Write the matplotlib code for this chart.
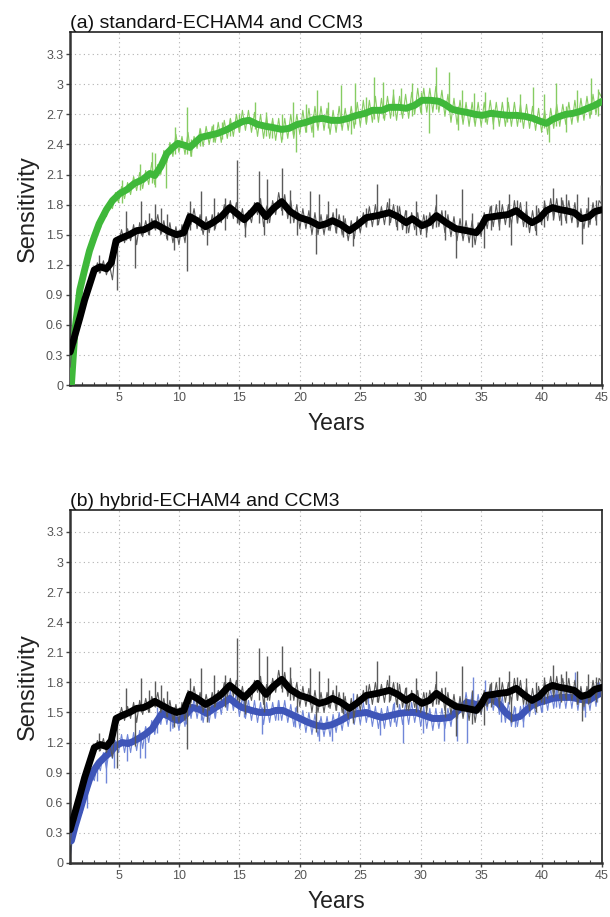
import numpy as np
import matplotlib
matplotlib.use("Agg")
import matplotlib.pyplot as plt
from matplotlib.ticker import MultipleLocator

plt.rcParams['font.family'] = ['Liberation Sans', 'DejaVu Sans']

# ---------------- data ----------------
# thick (smoothed) curves: year, value
ccm3_smooth_x = [1.0, 1.4, 1.8, 2.2, 2.6, 3.0, 3.5, 4.0, 4.4, 4.8, 5.3, 5.9, 6.5, 7.1, 7.6, 8.0, 8.6, 9.2,
                 9.8, 10.4, 10.9, 11.5, 12.2, 12.8, 13.5, 14.2, 14.8, 15.4, 16.0, 16.5, 17.2, 17.8, 18.5,
                 19.2, 20.0, 20.8, 21.6, 22.2, 22.7, 23.4, 24.1, 24.8, 25.5, 26.4, 27.4, 28.1, 28.8, 29.3,
                 30.1, 30.7, 31.3, 32.1, 32.9, 33.8, 34.6, 35.0, 35.4, 36.0, 36.5, 37.2, 37.9, 38.5, 39.2,
                 39.8, 40.4, 40.9, 41.5, 42.0, 42.7, 43.3, 43.9, 44.4, 45.0]
ccm3_smooth_y = [0.33, 0.50, 0.67, 0.85, 1.00, 1.15, 1.18, 1.16, 1.22, 1.44, 1.47, 1.50, 1.54, 1.55, 1.58, 1.61,
                 1.57, 1.53, 1.50, 1.52, 1.68, 1.64, 1.58, 1.62, 1.68, 1.77, 1.71, 1.65, 1.72, 1.79, 1.68,
                 1.76, 1.83, 1.73, 1.67, 1.64, 1.59, 1.61, 1.64, 1.60, 1.54, 1.60, 1.67, 1.69, 1.72, 1.68,
                 1.62, 1.66, 1.59, 1.62, 1.69, 1.62, 1.56, 1.54, 1.52, 1.58, 1.67, 1.68, 1.69, 1.70, 1.74,
                 1.68, 1.62, 1.66, 1.74, 1.77, 1.75, 1.74, 1.72, 1.66, 1.68, 1.73, 1.75]

std_smooth_x = [1.1, 1.4, 1.8, 2.2, 2.6, 3.0, 3.4, 4.0, 4.5, 5.1, 5.7, 6.3, 7.0, 7.6, 8.0, 8.5, 9.0, 9.5, 9.9,
                10.5, 10.9, 11.8, 12.5, 13.2, 14.0, 14.6, 15.3, 15.8, 16.5, 17.2, 17.7, 18.5, 19.1, 19.8,
                20.5, 21.2, 21.9, 22.6, 23.3, 24.0, 24.7, 25.4, 26.0, 26.8, 27.4, 28.2, 28.8, 29.5, 30.1,
                30.8, 31.5, 32.0, 32.6, 33.3, 33.8, 34.5, 35.1, 35.8, 36.5, 37.2, 37.9, 38.6, 39.3, 39.9,
                40.4, 40.9, 41.5, 42.0, 42.6, 43.2, 43.8, 44.4, 45.0]
std_smooth_y = [0.00, 0.55, 0.95, 1.15, 1.34, 1.48, 1.61, 1.75, 1.84, 1.91, 1.95, 2.01, 2.05, 2.11, 2.09, 2.18,
                2.31, 2.37, 2.41, 2.39, 2.37, 2.47, 2.49, 2.51, 2.55, 2.59, 2.63, 2.64, 2.60, 2.58, 2.57,
                2.55, 2.56, 2.60, 2.62, 2.65, 2.66, 2.64, 2.64, 2.66, 2.69, 2.71, 2.74, 2.74, 2.77, 2.77,
                2.76, 2.79, 2.84, 2.84, 2.83, 2.80, 2.75, 2.73, 2.72, 2.70, 2.69, 2.71, 2.70, 2.69, 2.69,
                2.68, 2.66, 2.63, 2.61, 2.65, 2.68, 2.70, 2.71, 2.73, 2.76, 2.79, 2.83]

hyb_smooth_x = [1.1, 1.4, 1.8, 2.2, 2.6, 3.0, 3.4, 3.9, 4.3, 4.8, 5.3, 5.8, 6.2, 6.8, 7.3, 7.8, 8.1, 8.6, 9.2,
                9.6, 10.0, 10.5, 11.1, 11.7, 12.3, 12.9, 13.6, 14.2, 14.7, 15.2, 16.0, 16.7, 17.5, 18.0,
                18.6, 19.3, 20.0, 20.7, 21.4, 22.0, 22.7, 23.4, 24.1, 24.8, 25.5, 26.2, 26.8, 27.5, 28.2,
                28.9, 29.6, 30.3, 31.0, 31.7, 32.4, 33.1, 33.8, 34.3, 34.8, 35.4, 35.9, 36.5, 37.0, 37.6,
                38.2, 38.7, 39.2, 39.8, 40.4, 40.9, 41.6, 42.5, 43.2, 43.9, 44.4, 45.0]
hyb_smooth_y = [0.22, 0.36, 0.52, 0.68, 0.83, 0.93, 1.00, 1.06, 1.10, 1.17, 1.20, 1.19, 1.21, 1.25, 1.29, 1.34,
                1.40, 1.49, 1.46, 1.43, 1.42, 1.47, 1.55, 1.53, 1.49, 1.54, 1.59, 1.64, 1.59, 1.55, 1.52,
                1.50, 1.50, 1.52, 1.52, 1.48, 1.44, 1.40, 1.37, 1.36, 1.38, 1.42, 1.47, 1.49, 1.50, 1.47,
                1.45, 1.47, 1.49, 1.50, 1.50, 1.47, 1.44, 1.44, 1.45, 1.52, 1.60, 1.59, 1.57, 1.61, 1.64,
                1.58, 1.50, 1.44, 1.46, 1.52, 1.57, 1.60, 1.62, 1.64, 1.65, 1.65, 1.63, 1.62, 1.66, 1.70]

# thin (raw) curves: quarterly values, year 1.0 .. 45.0 (4 per row = one year)
thin_years = np.linspace(1.0, 45.0, 177)
ccm3_thin = [0.18, 0.48, 0.42, 0.70, 0.66, 0.92, 0.88, 1.10, 1.08, 1.22, 1.12, 1.24, 1.10, 1.20, 1.05, 1.36,
             1.40, 1.55, 1.42, 1.56, 1.44, 1.60, 1.40, 1.62, 1.48, 1.64, 1.50, 1.66, 1.56, 1.70, 1.50, 1.64,
             1.46, 1.62, 1.42, 1.58, 1.40, 1.60, 1.42, 1.72, 1.60, 1.76, 1.56, 1.70, 1.50, 1.68, 1.52, 1.70,
             1.56, 1.72, 1.62, 1.80, 1.66, 1.84, 1.66, 1.82, 1.60, 1.76, 1.56, 1.74, 1.62, 1.82, 1.70, 1.86,
             1.58, 1.78, 1.62, 1.84, 1.70, 1.92, 1.74, 1.90, 1.66, 1.84, 1.62, 1.80, 1.56, 1.76, 1.56, 1.74,
             1.50, 1.72, 1.50, 1.70, 1.50, 1.70, 1.54, 1.72, 1.52, 1.70, 1.50, 1.66, 1.44, 1.64, 1.46, 1.68,
             1.52, 1.72, 1.58, 1.78, 1.58, 1.80, 1.60, 1.78, 1.60, 1.82, 1.62, 1.80, 1.58, 1.78, 1.55, 1.74,
             1.52, 1.72, 1.55, 1.72, 1.50, 1.70, 1.52, 1.72, 1.56, 1.78, 1.58, 1.74, 1.52, 1.70, 1.48, 1.68,
             1.44, 1.66, 1.44, 1.64, 1.42, 1.64, 1.40, 1.62, 1.48, 1.72, 1.56, 1.78, 1.58, 1.80, 1.58, 1.80,
             1.60, 1.80, 1.60, 1.84, 1.62, 1.82, 1.58, 1.76, 1.52, 1.74, 1.54, 1.76, 1.60, 1.82, 1.64, 1.86,
             1.66, 1.86, 1.64, 1.84, 1.64, 1.84, 1.62, 1.82, 1.58, 1.76, 1.56, 1.76, 1.60, 1.82, 1.64, 1.84,
             1.80]
std_thin = [-0.10, 0.10, 0.60, 0.88, 1.02, 1.20, 1.26, 1.42, 1.42, 1.58, 1.56, 1.72, 1.68, 1.82, 1.76, 1.92,
            1.82, 1.98, 1.86, 2.02, 1.90, 2.08, 1.94, 2.12, 1.96, 2.14, 2.00, 2.22, 2.00, 2.20, 2.10, 2.34,
            2.22, 2.42, 2.28, 2.50, 2.32, 2.48, 2.30, 2.52, 2.28, 2.48, 2.36, 2.56, 2.38, 2.58, 2.40, 2.58,
            2.42, 2.62, 2.42, 2.64, 2.46, 2.66, 2.48, 2.70, 2.52, 2.74, 2.54, 2.74, 2.52, 2.72, 2.48, 2.70,
            2.46, 2.68, 2.46, 2.66, 2.44, 2.66, 2.42, 2.66, 2.46, 2.70, 2.46, 2.70, 2.50, 2.74, 2.52, 2.76,
            2.52, 2.78, 2.54, 2.78, 2.54, 2.76, 2.50, 2.74, 2.52, 2.78, 2.54, 2.76, 2.54, 2.78, 2.56, 2.82,
            2.58, 2.84, 2.60, 2.84, 2.62, 2.88, 2.62, 2.86, 2.64, 2.88, 2.66, 2.90, 2.64, 2.88, 2.66, 2.90,
            2.66, 2.92, 2.70, 2.96, 2.72, 2.96, 2.72, 2.96, 2.72, 2.98, 2.72, 2.94, 2.68, 2.90, 2.62, 2.86,
            2.60, 2.84, 2.60, 2.82, 2.58, 2.82, 2.58, 2.82, 2.58, 2.82, 2.60, 2.84, 2.60, 2.82, 2.58, 2.82,
            2.58, 2.82, 2.58, 2.82, 2.58, 2.80, 2.56, 2.80, 2.56, 2.78, 2.54, 2.76, 2.52, 2.74, 2.50, 2.76,
            2.56, 2.80, 2.58, 2.80, 2.60, 2.82, 2.60, 2.84, 2.62, 2.86, 2.64, 2.88, 2.66, 2.90, 2.70, 2.92,
            2.86]
hyb_thin = [0.05, 0.30, 0.36, 0.52, 0.50, 0.70, 0.70, 0.88, 0.82, 1.00, 0.92, 1.10, 0.94, 1.14, 1.04, 1.22,
            1.10, 1.28, 1.10, 1.28, 1.10, 1.30, 1.12, 1.32, 1.14, 1.36, 1.20, 1.42, 1.28, 1.50, 1.38, 1.58,
            1.38, 1.56, 1.34, 1.52, 1.32, 1.52, 1.36, 1.60, 1.44, 1.64, 1.44, 1.62, 1.40, 1.60, 1.40, 1.62,
            1.44, 1.66, 1.48, 1.70, 1.52, 1.72, 1.52, 1.70, 1.46, 1.66, 1.44, 1.62, 1.42, 1.62, 1.40, 1.60,
            1.38, 1.60, 1.40, 1.60, 1.42, 1.62, 1.42, 1.62, 1.40, 1.58, 1.36, 1.56, 1.34, 1.52, 1.30, 1.50,
            1.28, 1.48, 1.26, 1.46, 1.26, 1.46, 1.26, 1.48, 1.30, 1.50, 1.32, 1.54, 1.36, 1.56, 1.38, 1.58,
            1.38, 1.60, 1.40, 1.58, 1.36, 1.56, 1.34, 1.54, 1.34, 1.56, 1.36, 1.58, 1.36, 1.58, 1.38, 1.60,
            1.38, 1.60, 1.40, 1.58, 1.36, 1.56, 1.34, 1.54, 1.32, 1.54, 1.34, 1.54, 1.34, 1.54, 1.36, 1.58,
            1.40, 1.64, 1.46, 1.70, 1.48, 1.70, 1.48, 1.68, 1.48, 1.70, 1.52, 1.74, 1.52, 1.72, 1.48, 1.66,
            1.40, 1.60, 1.36, 1.56, 1.36, 1.56, 1.40, 1.62, 1.46, 1.66, 1.48, 1.70, 1.50, 1.72, 1.52, 1.74,
            1.54, 1.76, 1.54, 1.76, 1.54, 1.76, 1.54, 1.76, 1.52, 1.74, 1.52, 1.72, 1.52, 1.76, 1.56, 1.80,
            1.72]

# single-month excursions of the raw curves: year, low end, high end
ccm3_spike_x = [3.4, 4.9, 5.6, 6.4, 6.9, 7.5, 8.0, 8.5, 9.0, 9.6, 10.7, 10.9, 11.8, 12.3, 12.9, 13.8, 14.8,
                15.5, 16.6, 17.0, 17.3, 18.5, 19.2, 19.8, 20.8, 21.3, 21.6, 22.3, 23.0, 23.6, 24.4, 25.5,
                26.4, 27.4, 28.0, 28.8, 29.6, 30.4, 31.3, 32.0, 32.9, 33.4, 34.2, 35.2, 35.8, 36.5, 37.3,
                37.5, 38.0, 38.7, 39.5, 40.2, 40.9, 41.6, 42.0, 42.9, 43.3, 43.8, 44.5, 44.9]
ccm3_spike_lo = [1.12, 0.95, 1.45, 1.17, 1.50, 1.50, 1.55, 1.52, 1.45, 1.35, 1.14, 1.55, 1.55, 1.40, 1.55, 1.55,
                 1.62, 1.48, 1.62, 1.50, 1.62, 1.70, 1.62, 1.50, 1.58, 1.31, 1.58, 1.55, 1.52, 1.48, 1.39,
                 1.58, 1.60, 1.60, 1.55, 1.52, 1.50, 1.48, 1.58, 1.45, 1.27, 1.50, 1.38, 1.37, 1.55, 1.55,
                 1.58, 1.40, 1.62, 1.58, 1.50, 1.58, 1.65, 1.60, 1.62, 1.58, 1.41, 1.58, 1.60, 1.65]
ccm3_spike_hi = [1.30, 1.40, 1.74, 1.55, 1.84, 1.72, 1.81, 1.77, 1.71, 1.55, 1.55, 1.84, 1.94, 1.62, 1.87, 1.87,
                 2.24, 1.70, 2.14, 1.75, 2.06, 2.16, 1.95, 1.72, 1.94, 1.62, 1.91, 1.84, 1.77, 1.70, 1.60,
                 1.77, 2.01, 1.87, 1.80, 1.75, 1.84, 1.70, 1.91, 1.75, 1.60, 1.96, 1.72, 1.62, 1.80, 1.85,
                 1.91, 1.65, 1.85, 1.84, 1.80, 1.85, 1.97, 1.88, 1.91, 1.91, 1.70, 1.88, 1.85, 2.00]

std_spike_x = [5.3, 6.8, 7.8, 8.0, 8.9, 9.7, 10.7, 11.0, 11.7, 12.8, 13.6, 14.2, 15.0, 16.3, 17.2, 17.7, 18.5,
               19.4, 19.7, 20.5, 21.1, 21.4, 22.3, 23.4, 24.2, 24.6, 25.5, 26.1, 26.9, 27.7, 28.4, 29.3,
               30.0, 30.7, 31.3, 32.3, 33.1, 33.4, 34.4, 35.3, 36.0, 37.1, 38.2, 39.3, 40.2, 40.6, 41.2,
               42.0, 42.9, 44.1, 44.7]
std_spike_lo = [1.82, 1.95, 2.02, 1.98, 1.97, 2.30, 2.30, 2.28, 2.38, 2.42, 2.45, 2.48, 2.52, 2.55, 2.48, 2.46,
                2.45, 2.50, 2.32, 2.52, 2.47, 2.58, 2.56, 2.58, 2.50, 2.60, 2.62, 2.65, 2.66, 2.68, 2.70,
                2.68, 2.70, 2.51, 2.75, 2.72, 2.54, 2.66, 2.62, 2.62, 2.55, 2.62, 2.62, 2.62, 2.56, 2.42,
                2.58, 2.52, 2.64, 2.70, 2.68]
std_spike_hi = [2.05, 2.20, 2.32, 2.31, 2.25, 2.57, 2.77, 2.45, 2.55, 2.60, 2.62, 2.65, 2.70, 2.82, 2.72, 2.62,
                2.70, 2.82, 2.60, 2.80, 2.70, 2.94, 2.82, 2.99, 2.72, 3.01, 2.87, 3.07, 3.02, 2.95, 2.96,
                3.01, 2.92, 2.85, 3.17, 3.12, 2.78, 2.94, 2.91, 2.92, 2.75, 2.87, 2.90, 2.97, 2.90, 2.66,
                3.01, 2.78, 2.94, 3.06, 2.95]

hyb_spike_x = [2.4, 3.2, 4.0, 4.6, 5.7, 6.8, 7.2, 8.2, 9.3, 10.6, 11.8, 13.0, 14.0, 15.4, 16.9, 18.2, 19.6,
               21.6, 22.7, 24.4, 25.6, 26.6, 27.8, 28.5, 30.2, 31.9, 33.0, 33.8, 34.3, 35.3, 36.6, 37.8,
               38.5, 40.0, 41.2, 42.8, 43.6, 44.6]
hyb_spike_lo = [0.55, 0.82, 0.80, 0.95, 1.02, 1.05, 1.05, 1.30, 1.32, 1.38, 1.42, 1.45, 1.52, 1.45, 1.29, 1.42,
                1.35, 1.22, 1.22, 1.42, 1.45, 1.28, 1.40, 1.20, 1.30, 1.22, 1.22, 1.20, 1.55, 1.58, 1.40,
                1.35, 1.35, 1.50, 1.55, 1.62, 1.45, 1.60]
hyb_spike_hi = [0.75, 1.00, 1.10, 1.25, 1.25, 1.30, 1.35, 1.55, 1.55, 1.60, 1.62, 1.65, 1.72, 1.62, 1.55, 1.62,
                1.55, 1.42, 1.42, 1.69, 1.69, 1.48, 1.60, 1.48, 1.52, 1.46, 1.52, 1.60, 1.85, 1.82, 1.62,
                1.55, 1.58, 1.72, 1.76, 1.90, 1.68, 1.80]

titles = ["(a) standard-ECHAM4 and CCM3", "(b) hybrid-ECHAM4 and CCM3"]
y_ticks = [0, 0.3, 0.6, 0.9, 1.2, 1.5, 1.8, 2.1, 2.4, 2.7, 3.0, 3.3]
y_tick_labels = ["0", "0.3", "0.6", "0.9", "1.2", "1.5", "1.8", "2.1", "2.4", "2.7", "3", "3.3"]
x_ticks = [5, 10, 15, 20, 25, 30, 35, 40, 45]

# ---------------- plotting ----------------
fig = plt.figure(figsize=(6.10, 9.17), dpi=100)
ax_a = fig.add_axes([0.115, 0.580, 0.872, 0.385])
ax_b = fig.add_axes([0.115, 0.059, 0.872, 0.385])

panels = [
    (ax_a, std_thin, std_spike_x, std_spike_lo, std_spike_hi, std_smooth_x, std_smooth_y, "#86cc62", "#3fb83a"),
    (ax_b, hyb_thin, hyb_spike_x, hyb_spike_lo, hyb_spike_hi, hyb_smooth_x, hyb_smooth_y, "#7086d8", "#3e55b8"),
]

for i, (ax, thin, spx, splo, sphi, sx, sy, thin_c, thick_c) in enumerate(panels):
    ax.plot(thin_years, thin, color=thin_c, lw=0.8, zorder=2)
    ax.vlines(spx, splo, sphi, color=thin_c, lw=1.0, zorder=2)
    ax.plot(sx, sy, color=thick_c, lw=5.0, zorder=3, solid_capstyle='round')
    ax.plot(thin_years, ccm3_thin, color="#5a5a5a", lw=0.8, zorder=4)
    ax.vlines(ccm3_spike_x, ccm3_spike_lo, ccm3_spike_hi, color="#5a5a5a", lw=1.0, zorder=4)
    ax.plot(ccm3_smooth_x, ccm3_smooth_y, color="black", lw=5.0, zorder=5, solid_capstyle='round')

    ax.set_xlim(1, 45)
    ax.set_ylim(0, 3.52)
    ax.set_yticks(y_ticks)
    ax.set_yticklabels(y_tick_labels)
    ax.set_xticks(x_ticks)
    ax.xaxis.set_minor_locator(MultipleLocator(1))
    ax.tick_params(axis='both', which='major', labelsize=9, labelcolor="#555555",
                   direction='out', length=3, width=1, color="#444444", pad=2)
    ax.tick_params(axis='x', which='minor', direction='in', length=2, width=0.8, color="#444444")
    ax.grid(True, which='major', color="#b0b0b0", linestyle=(0, (1, 3)), linewidth=0.8)
    for side in ['left', 'bottom']:
        ax.spines[side].set_linewidth(1.8)
        ax.spines[side].set_color("#333333")
    for side in ['top', 'right']:
        ax.spines[side].set_linewidth(1.2)
        ax.spines[side].set_color("#222222")
    ax.set_ylabel("Sensitivity", fontsize=17, color="#222222", labelpad=5)
    ax.set_xlabel("Years", fontsize=16.5, color="#222222", labelpad=6)
    ax.set_title(titles[i], loc='left', fontsize=14, color="#111111", pad=3)

fig.savefig("out.png", dpi=100)
